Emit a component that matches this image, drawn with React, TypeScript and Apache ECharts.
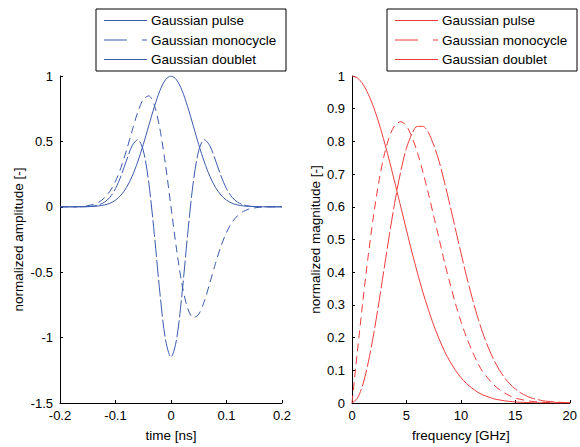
import React, { useEffect, useRef } from "react";
import * as echarts from "echarts";

// ---- time domain (left) ----
const timeNs = [
  -0.2, -0.19, -0.18, -0.17, -0.16, -0.15, -0.14, -0.13, -0.12, -0.11, -0.1,
  -0.09, -0.08, -0.07, -0.06, -0.05, -0.04, -0.03, -0.02, -0.01, 0,
  0.01, 0.02, 0.03, 0.04, 0.05, 0.06, 0.07, 0.08, 0.09, 0.1,
  0.11, 0.12, 0.13, 0.14, 0.15, 0.16, 0.17, 0.18, 0.19, 0.2,
];
const pulseTime = [
  0, 0, 0, 0, 0.0002, 0.001, 0.003, 0.007, 0.014, 0.027, 0.051,
  0.09, 0.149, 0.233, 0.343, 0.475, 0.621, 0.765, 0.888, 0.971, 1,
  0.971, 0.888, 0.765, 0.621, 0.475, 0.343, 0.233, 0.149, 0.09, 0.051,
  0.027, 0.014, 0.007, 0.003, 0.001, 0.0002, 0, 0, 0, 0,
];
const monocycleTime = [
  0, 0, 0, 0, 0.003, 0.009, 0.018, 0.036, 0.068, 0.119, 0.196,
  0.302, 0.435, 0.582, 0.722, 0.821, 0.848, 0.775, 0.596, 0.324, 0,
  -0.324, -0.596, -0.775, -0.848, -0.821, -0.722, -0.582, -0.435, -0.302, -0.196,
  -0.119, -0.068, -0.036, -0.018, -0.009, -0.003, 0, 0, 0, 0,
];
const doubletTime = [
  0, 0, 0, 0, 0.0006, 0.002, 0.006, 0.015, 0.035, 0.073, 0.139,
  0.237, 0.357, 0.467, 0.513, 0.431, 0.183, -0.211, -0.658, -1.014, -1.15,
  -1.014, -0.658, -0.211, 0.183, 0.431, 0.513, 0.467, 0.357, 0.237, 0.139,
  0.073, 0.035, 0.015, 0.006, 0.002, 0.0006, 0, 0, 0, 0,
];

// ---- frequency domain (right) ----
const freqGHz = [
  0, 0.5, 1, 1.5, 2, 2.5, 3, 3.5, 4, 4.5, 5, 5.5, 6, 6.5, 7, 7.5, 8, 8.5, 9, 9.5, 10,
  10.5, 11, 11.5, 12, 12.5, 13, 13.5, 14, 14.5, 15, 15.5, 16, 16.5, 17, 17.5, 18, 18.5, 19, 19.5, 20,
];
const pulseFreq = [
  1, 0.994, 0.975, 0.944, 0.903, 0.853, 0.795, 0.732, 0.665, 0.597, 0.529, 0.462, 0.399, 0.34, 0.287, 0.238, 0.196, 0.158, 0.127, 0.1, 0.078,
  0.06, 0.046, 0.034, 0.025, 0.019, 0.013, 0.0096, 0.0068, 0.0047, 0.0032, 0.0022, 0.0015, 0.001, 0.0006, 0.0004, 0.0003, 0.0002, 0.0001, 0.0001, 0,
];
const monocycleFreq = [
  0, 0.159, 0.312, 0.453, 0.578, 0.683, 0.764, 0.82, 0.852, 0.86, 0.847, 0.814, 0.767, 0.708, 0.643, 0.572, 0.502, 0.43, 0.366, 0.304, 0.25,
  0.202, 0.162, 0.125, 0.096, 0.075, 0.056, 0.042, 0.031, 0.022, 0.015, 0.011, 0.0075, 0.005, 0.0034, 0.0022, 0.0015, 0.001, 0.0006, 0.0004, 0.0002,
];
const doubletFreq = [
  0, 0.015, 0.057, 0.125, 0.213, 0.314, 0.422, 0.528, 0.627, 0.712, 0.779, 0.823, 0.846, 0.846, 0.828, 0.789, 0.739, 0.674, 0.605, 0.532, 0.46,
  0.39, 0.326, 0.267, 0.215, 0.171, 0.134, 0.103, 0.078, 0.058, 0.043, 0.031, 0.022, 0.015, 0.011, 0.007, 0.005, 0.0034, 0.0022, 0.0014, 0.0009,
];

const seriesNames = ["Gaussian pulse", "Gaussian monocycle", "Gaussian doublet"];

const BLUE = "#3a5aad";
const RED = "#f03a3a";
const FONT = "Arial, 'Liberation Sans', sans-serif";

const pairs = (xs: number[], ys: number[]) => xs.map((x, i) => [x, ys[i]]);

export default function App() {
  const ref = useRef<HTMLDivElement>(null);
  useEffect(() => {
    if (!ref.current) return;
    const chart = echarts.init(ref.current, undefined, { renderer: "svg" });

    const axisCommon = {
      axisLine: { show: true, onZero: false, lineStyle: { color: "#000", width: 1 } },
      axisTick: { show: true, inside: true, length: 3, lineStyle: { color: "#000" } },
      splitLine: { show: false },
      axisLabel: { color: "#000", fontSize: 13, fontFamily: FONT },
      nameTextStyle: { color: "#000", fontSize: 13.5, fontFamily: FONT },
      nameLocation: "middle" as const,
    };

    const dashStyles: any[] = ["solid", [8, 5], [17, 3]];

    const mkSeries = (
      name: string,
      xs: number[],
      ys: number[],
      idx: number,
      color: string,
      style: any
    ) => ({
      name,
      type: "line",
      xAxisIndex: idx,
      yAxisIndex: idx,
      data: pairs(xs, ys),
      showSymbol: false,
      smooth: 0.3,
      lineStyle: { color, width: 1, type: style },
      silent: true,
    });

    const legendGraphic = (x0: number, color: string) => {
      const rows = [20.5, 40, 59.5];
      const children: any[] = [
        {
          type: "rect",
          shape: { x: x0, y: 9, width: 190, height: 62 },
          style: { fill: "#fff", stroke: "#000", lineWidth: 1 },
        },
      ];
      seriesNames.forEach((n, i) => {
        children.push({
          type: "line",
          shape: { x1: x0 + 8, y1: rows[i], x2: x0 + 51, y2: rows[i] },
          style: {
            stroke: color,
            lineWidth: 1,
            lineDash: i === 1 ? [23, 15] : null,
          },
        });
        children.push({
          type: "text",
          x: x0 + 55,
          y: rows[i],
          style: {
            text: n,
            fill: "#000",
            font: `13.5px ${FONT}`,
            verticalAlign: "middle",
            align: "left",
          },
        });
      });
      return { type: "group", children };
    };

    chart.setOption({
      animation: false,
      backgroundColor: "#fff",
      grid: [
        { left: 60, top: 76, width: 222, height: 333 },
        { left: 352, top: 76, width: 223, height: 333 },
      ],
      xAxis: [
        {
          ...axisCommon,
          type: "value",
          gridIndex: 0,
          min: -0.2,
          max: 0.2,
          interval: 0.1,
          name: "time [ns]",
          nameGap: 25,
          axisLabel: { ...axisCommon.axisLabel, margin: 6 },
        },
        {
          ...axisCommon,
          type: "value",
          gridIndex: 1,
          min: 0,
          max: 20,
          interval: 5,
          name: "frequency [GHz]",
          nameGap: 25,
          axisLabel: { ...axisCommon.axisLabel, margin: 6 },
        },
      ],
      yAxis: [
        {
          ...axisCommon,
          type: "value",
          gridIndex: 0,
          min: -1.5,
          max: 1,
          interval: 0.5,
          name: "normalized amplitude [-]",
          nameGap: 35,
          axisLabel: { ...axisCommon.axisLabel, margin: 7 },
        },
        {
          ...axisCommon,
          type: "value",
          gridIndex: 1,
          min: 0,
          max: 1,
          interval: 0.1,
          name: "normalized magnitude [-]",
          nameGap: 30,
          axisLabel: { ...axisCommon.axisLabel, margin: 7 },
        },
      ],
      series: [
        mkSeries(seriesNames[0], timeNs, pulseTime, 0, BLUE, dashStyles[0]),
        mkSeries(seriesNames[1], timeNs, monocycleTime, 0, BLUE, dashStyles[1]),
        mkSeries(seriesNames[2], timeNs, doubletTime, 0, BLUE, dashStyles[2]),
        mkSeries(seriesNames[0], freqGHz, pulseFreq, 1, RED, dashStyles[0]),
        mkSeries(seriesNames[1], freqGHz, monocycleFreq, 1, RED, dashStyles[1]),
        mkSeries(seriesNames[2], freqGHz, doubletFreq, 1, RED, dashStyles[2]),
      ],
      graphic: [legendGraphic(96, BLUE), legendGraphic(387, RED)],
    });

    return () => chart.dispose();
  }, []);

  return (
    <div
      ref={ref}
      style={{ position: "fixed", left: 0, top: 0, width: 580, height: 447, background: "#fff" }}
    />
  );
}
